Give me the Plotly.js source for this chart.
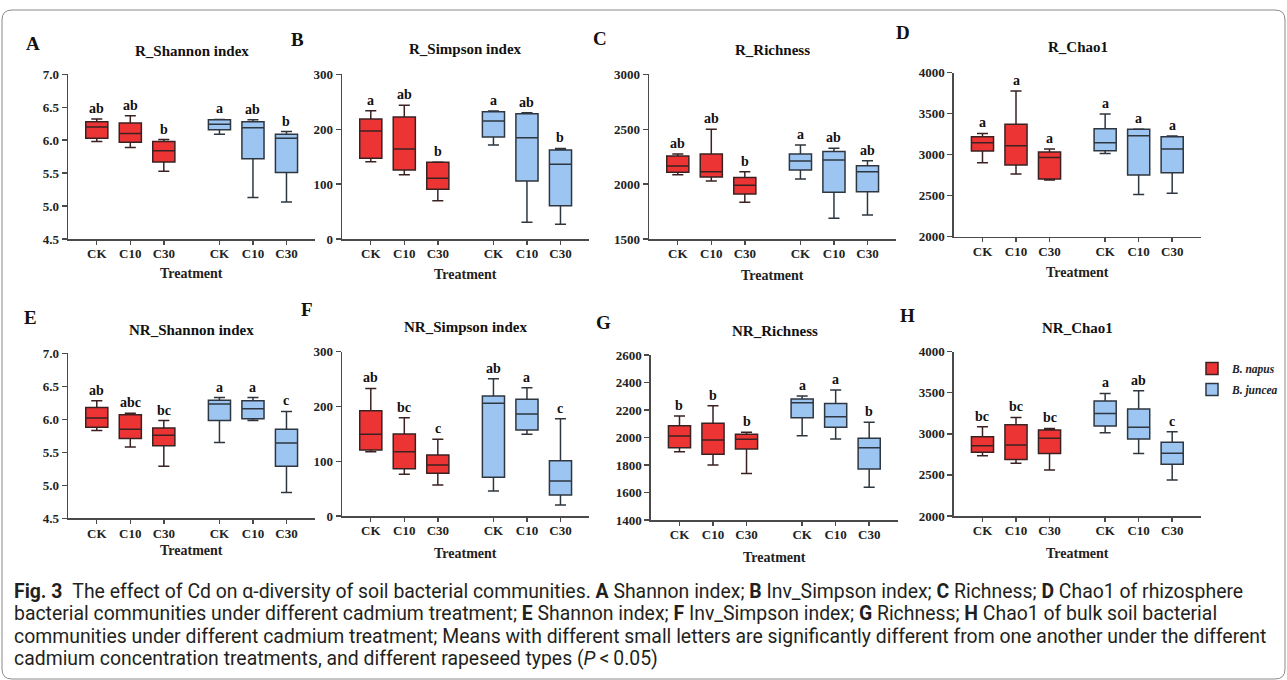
<!DOCTYPE html>
<html><head><meta charset="utf-8">
<script src="https://cdn.plot.ly/plotly-3.0.1.min.js"></script>
<style>html,body{margin:0;padding:0;background:#fff;} #chart{width:1287px;height:680px;}</style>
</head><body><div id="chart"></div>
<script>
// ---------- DATA ----------
const treatments = ['CK', 'C10', 'C30'];
const speciesNames = ['B. napus', 'B. juncea'];
const panelTitles = ['R_Shannon index', 'R_Simpson index', 'R_Richness', 'R_Chao1',
                     'NR_Shannon index', 'NR_Simpson index', 'NR_Richness', 'NR_Chao1'];
const panelLetters = ['A', 'B', 'C', 'D', 'E', 'F', 'G', 'H'];
const axisTitle = 'Treatment';
// each row: [lower whisker, Q1, median, Q3, upper whisker] for CK, C10, C30
const A_napus  = [[5.98, 6.03, 6.20, 6.28, 6.32], [5.89, 5.97, 6.10, 6.26, 6.37], [5.53, 5.67, 5.84, 5.98, 6.01]];
const A_juncea = [[6.09, 6.16, 6.24, 6.31, 6.315], [5.13, 5.72, 6.19, 6.28, 6.31], [5.06, 5.51, 6.03, 6.09, 6.13]];
const A_sig    = ['ab', 'ab', 'b', 'a', 'ab', 'b'];
const B_napus  = [[140.9, 146.9, 196.7, 218.6, 233.8], [117.2, 125.7, 163.9, 222.2, 243.5], [69.8, 90.5, 110.5, 139.6, 140.3]];
const B_juncea = [[171.2, 185.8, 215, 232, 233.2], [30.4, 105.6, 184.6, 228.3, 230], [26.7, 60.7, 136, 162.1, 165]];
const B_sig    = ['a', 'ab', 'b', 'a', 'ab', 'b'];
const C_napus  = [[2086, 2107, 2165, 2256, 2274], [2028, 2065, 2113, 2274, 2499], [1834, 1910, 1989, 2059, 2113]];
const C_juncea = [[2046, 2128, 2210, 2274, 2356], [1688, 1925, 2220, 2298, 2326], [1719, 1931, 2113, 2168, 2213]];
const C_sig    = ['ab', 'ab', 'b', 'a', 'ab', 'ab'];
const D_napus  = [[2902, 3045, 3146, 3220, 3260], [2764, 2874, 3110, 3370, 3776], [2691, 2703, 2967, 3033, 3069]];
const D_juncea = [[3016, 3049, 3146, 3317, 3496], [2516, 2752, 3232, 3309, 3313], [2529, 2780, 3069, 3220, 3228]];
const D_sig    = ['a', 'a', 'a', 'a', 'a', 'a'];
const E_napus  = [[5.83, 5.88, 6.02, 6.18, 6.28], [5.58, 5.71, 5.85, 6.07, 6.09], [5.29, 5.60, 5.76, 5.87, 5.98]];
const E_juncea = [[5.65, 5.98, 6.23, 6.29, 6.33], [5.98, 6.01, 6.16, 6.28, 6.33], [4.89, 5.29, 5.64, 5.85, 6.12]];
const E_sig    = ['ab', 'abc', 'bc', 'a', 'a', 'c'];
const F_napus  = [[117.5, 120.5, 149.1, 192.3, 233], [76.1, 86.4, 117.5, 149.7, 179.5], [56.6, 77.9, 93.1, 111.4, 140]];
const F_juncea = [[45.6, 70.6, 205.7, 219.1, 250.8], [149.1, 157, 186.2, 213, 234.3], [20.1, 38.3, 63.9, 101, 177.7]];
const F_sig    = ['ab', 'bc', 'c', 'ab', 'a', 'c'];
const G_napus  = [[1897, 1926, 2011, 2086, 2156], [1800, 1878, 1982, 2103, 2231], [1739, 1916, 1987, 2023, 2038]];
const G_juncea = [[2013, 2144, 2253, 2280, 2302], [1989, 2074, 2151, 2248, 2345], [1638, 1771, 1926, 1994, 2111]];
const G_sig    = ['b', 'b', 'b', 'a', 'a', 'b'];
const H_napus  = [[2734, 2775, 2856, 2965, 3087], [2641, 2689, 2864, 3111, 3200], [2560, 2762, 2945, 3046, 3066]];
const H_juncea = [[3014, 3095, 3249, 3399, 3492], [2762, 2937, 3079, 3302, 3525], [2438, 2629, 2763, 2897, 3026]];
const H_sig    = ['bc', 'bc', 'bc', 'a', 'ab', 'c'];
const captionLines = [
  '<b>Fig. 3</b>\u2002The effect of Cd on α-diversity of soil bacterial communities. <b>A</b> Shannon index; <b>B</b> Inv_Simpson index; <b>C</b> Richness; <b>D</b> Chao1 of rhizosphere',
  'bacterial communities under different cadmium treatment; <b>E</b> Shannon index; <b>F</b> Inv_Simpson index; <b>G</b> Richness; <b>H</b> Chao1 of bulk soil bacterial',
  'communities under different cadmium treatment; Means with different small letters are significantly different from one another under the different',
  'cadmium concentration treatments, and different rapeseed types (<i>P</i>\u2009<\u20090.05)'
];

// ---------- LAYOUT / STYLE ----------
const W = 1287, H = 680;
const px = x => x / W;
const py = y => 1 - y / H;
const SERIF = 'Liberation Serif, Times New Roman, serif';
const CAP = 'Roboto, Open Sans, sans-serif';
const RED = '#ec3434', BLUE = '#9cc5f2';
const AXC = '#4a4a4a';

const dataSets = [
  [A_napus, A_juncea, A_sig], [B_napus, B_juncea, B_sig], [C_napus, C_juncea, C_sig], [D_napus, D_juncea, D_sig],
  [E_napus, E_juncea, E_sig], [F_napus, F_juncea, F_sig], [G_napus, G_juncea, G_sig], [H_napus, H_juncea, H_sig]
];
const geo = [
  {left: 68.3,  top: 74.3,  bottom: 239,   yr: [4.5, 7.0],   dt: 0.5, fmt: '.1f', let: [33, 43],   tit: 51,    tY: 273},
  {left: 342.3, top: 74.3,  bottom: 239,   yr: [0, 300],     dt: 100, fmt: 'd',   let: [297, 39],  tit: 49.3,  tY: 274},
  {left: 649.3, top: 74.3,  bottom: 239,   yr: [1500, 3000], dt: 500, fmt: 'd',   let: [600, 38],  tit: 50,    tY: 275},
  {left: 954,   top: 72.7,  bottom: 236.7, yr: [2000, 4000], dt: 500, fmt: 'd',   let: [903, 32],  tit: 46.7,  tY: 272},
  {left: 68.3,  top: 353.3, bottom: 518.3, yr: [4.5, 7.0],   dt: 0.5, fmt: '.1f', let: [30, 317],  tit: 330,   tY: 550},
  {left: 342.3, top: 351.7, bottom: 516,   yr: [0, 300],     dt: 100, fmt: 'd',   let: [307, 310], tit: 326.7, tY: 553},
  {left: 651,   top: 355,   bottom: 520,   yr: [1400, 2600], dt: 200, fmt: 'd',   let: [603, 322], tit: 330.7, tY: 557},
  {left: 954,   top: 351.7, bottom: 516,   yr: [2000, 4000], dt: 500, fmt: 'd',   let: [907, 315], tit: 328.3, tY: 553}
];
const AXLEN = 247;
const xRange = [-0.85, 6.52];
const GAP = 0.66;
const pos = i => i + (i >= 3 ? GAP : 0);

const traces = [];
const annotations = [];
const layout = {
  width: W, height: H, margin: {l: 0, r: 0, t: 0, b: 0},
  paper_bgcolor: '#fff', plot_bgcolor: 'rgba(0,0,0,0)',
  showlegend: true,
  legend: {x: px(1192), y: py(354), xanchor: 'left', yanchor: 'top', bgcolor: 'rgba(0,0,0,0)',
           font: {family: SERIF, size: 11.5, color: '#222'}, tracegroupgap: 2, itemwidth: 30},
  hovermode: false,
  shapes: [],
  annotations: annotations
};

geo.forEach((g, i) => {
  const k = i === 0 ? '' : String(i + 1);
  const xa = 'x' + k, ya = 'y' + k;
  const [nap, jun, sig] = dataSets[i];
  [[nap, 0, RED, '#3a2222'], [jun, 3, BLUE, '#2e3640']].forEach(([d, off, col, lc], s) => {
    traces.push({
      type: 'box', xaxis: xa, yaxis: ya,
      x: d.map((_, j) => pos(j + off)),
      lowerfence: d.map(r => r[0]), q1: d.map(r => r[1]), median: d.map(r => r[2]),
      q3: d.map(r => r[3]), upperfence: d.map(r => r[4]),
      name: '<b><i>' + speciesNames[s] + '</i></b>', legendgroup: speciesNames[s], showlegend: i === 0,
      fillcolor: col, line: {color: lc, width: 1.5}, width: 0.66, whiskerwidth: 0.5,
      boxpoints: false, hoverinfo: 'skip'
    });
    d.forEach((r, j) => {
      annotations.push({xref: xa, yref: ya, x: pos(j + off), y: r[4], yanchor: 'bottom', yshift: 1,
        text: '<b>' + sig[j + off] + '</b>', showarrow: false, font: {family: SERIF, size: 14, color: '#111'}});
    });
  });
  layout['xaxis' + k] = {
    domain: [px(g.left), px(g.left + AXLEN)], anchor: ya, range: xRange,
    tickvals: [0, 1, 2, 3, 4, 5].map(pos), ticktext: treatments.concat(treatments),
    showline: true, linecolor: AXC, linewidth: 1.6, ticks: 'outside', ticklen: 4, tickwidth: 1.4, tickcolor: AXC,
    ticklabelstandoff: -2,
    tickfont: {family: SERIF, size: 13, color: '#222', weight: 'bold'},
    showgrid: false, zeroline: false, fixedrange: true
  };
  layout['yaxis' + k] = {
    domain: [py(g.bottom), py(g.top)], anchor: xa, range: g.yr, tick0: g.yr[0], dtick: g.dt, tickformat: g.fmt,
    showline: true, linecolor: AXC, linewidth: 1.6, ticks: 'outside', ticklen: 5, tickwidth: 1.4, tickcolor: AXC,
    tickfont: {family: SERIF, size: 13, color: '#222', weight: 'bold'},
    showgrid: false, zeroline: false, fixedrange: true
  };
  const cx = g.left + AXLEN / 2;
  annotations.push({xref: 'paper', yref: 'paper', x: px(cx), y: py(g.tit), xanchor: 'center', yanchor: 'middle',
    text: '<b>' + panelTitles[i] + '</b>', showarrow: false, font: {family: SERIF, size: 15, color: '#111'}});
  annotations.push({xref: 'paper', yref: 'paper', x: px(g.let[0]), y: py(g.let[1]), xanchor: 'center', yanchor: 'middle',
    text: '<b>' + panelLetters[i] + '</b>', showarrow: false, font: {family: SERIF, size: 19, color: '#111'}});
  annotations.push({xref: 'paper', yref: 'paper', x: px(cx), y: py(g.tY), xanchor: 'center', yanchor: 'middle',
    text: '<b>' + axisTitle + '</b>', showarrow: false, font: {family: SERIF, size: 14, color: '#222'}});
});

const capY = [591, 613, 636, 658];
captionLines.forEach((t, i) => {
  annotations.push({xref: 'paper', yref: 'paper', x: px(12), y: py(capY[i]), xanchor: 'left', yanchor: 'middle',
    text: t, showarrow: false, font: {family: CAP, size: 19.4, color: '#231f20'}});
});

function rr(x0, y0, x1, y1, r) {
  return `M${px(x0 + r)},${py(y0)} L${px(x1 - r)},${py(y0)} Q${px(x1)},${py(y0)} ${px(x1)},${py(y0 + r)} ` +
         `L${px(x1)},${py(y1 - r)} Q${px(x1)},${py(y1)} ${px(x1 - r)},${py(y1)} L${px(x0 + r)},${py(y1)} ` +
         `Q${px(x0)},${py(y1)} ${px(x0)},${py(y1 - r)} L${px(x0)},${py(y0 + r)} Q${px(x0)},${py(y0)} ${px(x0 + r)},${py(y0)} Z`;
}
layout.shapes.push({type: 'path', xref: 'paper', yref: 'paper', path: rr(2, 10, 1285, 679, 10),
  line: {color: '#8a8a8a', width: 1}});

Plotly.newPlot('chart', traces, layout, {staticPlot: true, displayModeBar: false});
</script></body></html>
